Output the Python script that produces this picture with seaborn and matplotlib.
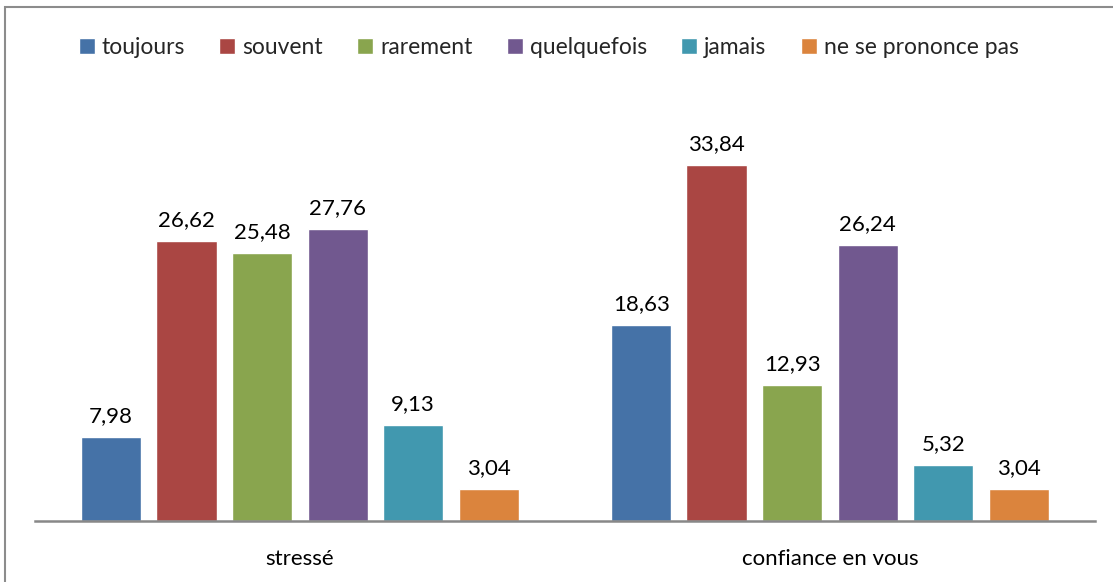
import pandas as pd
import numpy as np
import matplotlib.pyplot as plt
import seaborn as sns
from matplotlib.patches import Rectangle

# data
categories = ['stressé', 'confiance en vous']
responses = ['toujours', 'souvent', 'rarement', 'quelquefois', 'jamais', 'ne se prononce pas']
stresse = [7.98, 26.62, 25.48, 27.76, 9.13, 3.04]
confiance = [18.63, 33.84, 12.93, 26.24, 5.32, 3.04]
colors = ['#4572A7', '#AA4643', '#89A54E', '#71588F', '#4198AF', '#DB843D']

df = pd.DataFrame({
    'categorie': [categories[0]] * 6 + [categories[1]] * 6,
    'reponse': responses * 2,
    'pct': stresse + confiance,
})

sns.set_style('white')
plt.rcParams['font.family'] = ['Lato', 'DejaVu Sans']

fig = plt.figure(figsize=(11.13, 5.82), dpi=100)
ax = fig.add_axes([0.0314, 0.1048, 0.9524, 0.7234])

sns.barplot(data=df, x='categorie', y='pct', hue='reponse', hue_order=responses,
            palette=colors, width=0.855, gap=0.2, saturation=1, ax=ax,
            legend=True, errorbar=None)

for cont in ax.containers:
    ax.bar_label(cont, labels=[f'{v:.2f}'.replace('.', ',') for v in cont.datavalues],
                 padding=8, fontsize=16, color='black')

ax.set_ylim(0, 40)
ax.set_xlim(-0.5, 1.5)
ax.set_yticks([])
ax.set_xlabel('')
ax.set_ylabel('')
ax.tick_params(axis='x', length=0, labelsize=16, pad=20, labelcolor='black')
for s in ['top', 'right', 'left']:
    ax.spines[s].set_visible(False)
ax.spines['bottom'].set_color('#888888')
ax.spines['bottom'].set_linewidth(1.8)

handles, labels = ax.get_legend_handles_labels()
ax.legend_.remove()
fig.legend(handles, labels, loc='center', bbox_to_anchor=(0.493, 0.918), ncol=6,
           frameon=False, fontsize=16.5, handlelength=0.7, handleheight=0.7,
           handletextpad=0.3, columnspacing=1.5)

# outer chart border
fig.patches.append(Rectangle((0.0045, -0.05), 1.2, 1.038, transform=fig.transFigure,
                             fill=False, edgecolor='#8c8c8c', linewidth=1.5))

fig.savefig('out.png', dpi=100)
